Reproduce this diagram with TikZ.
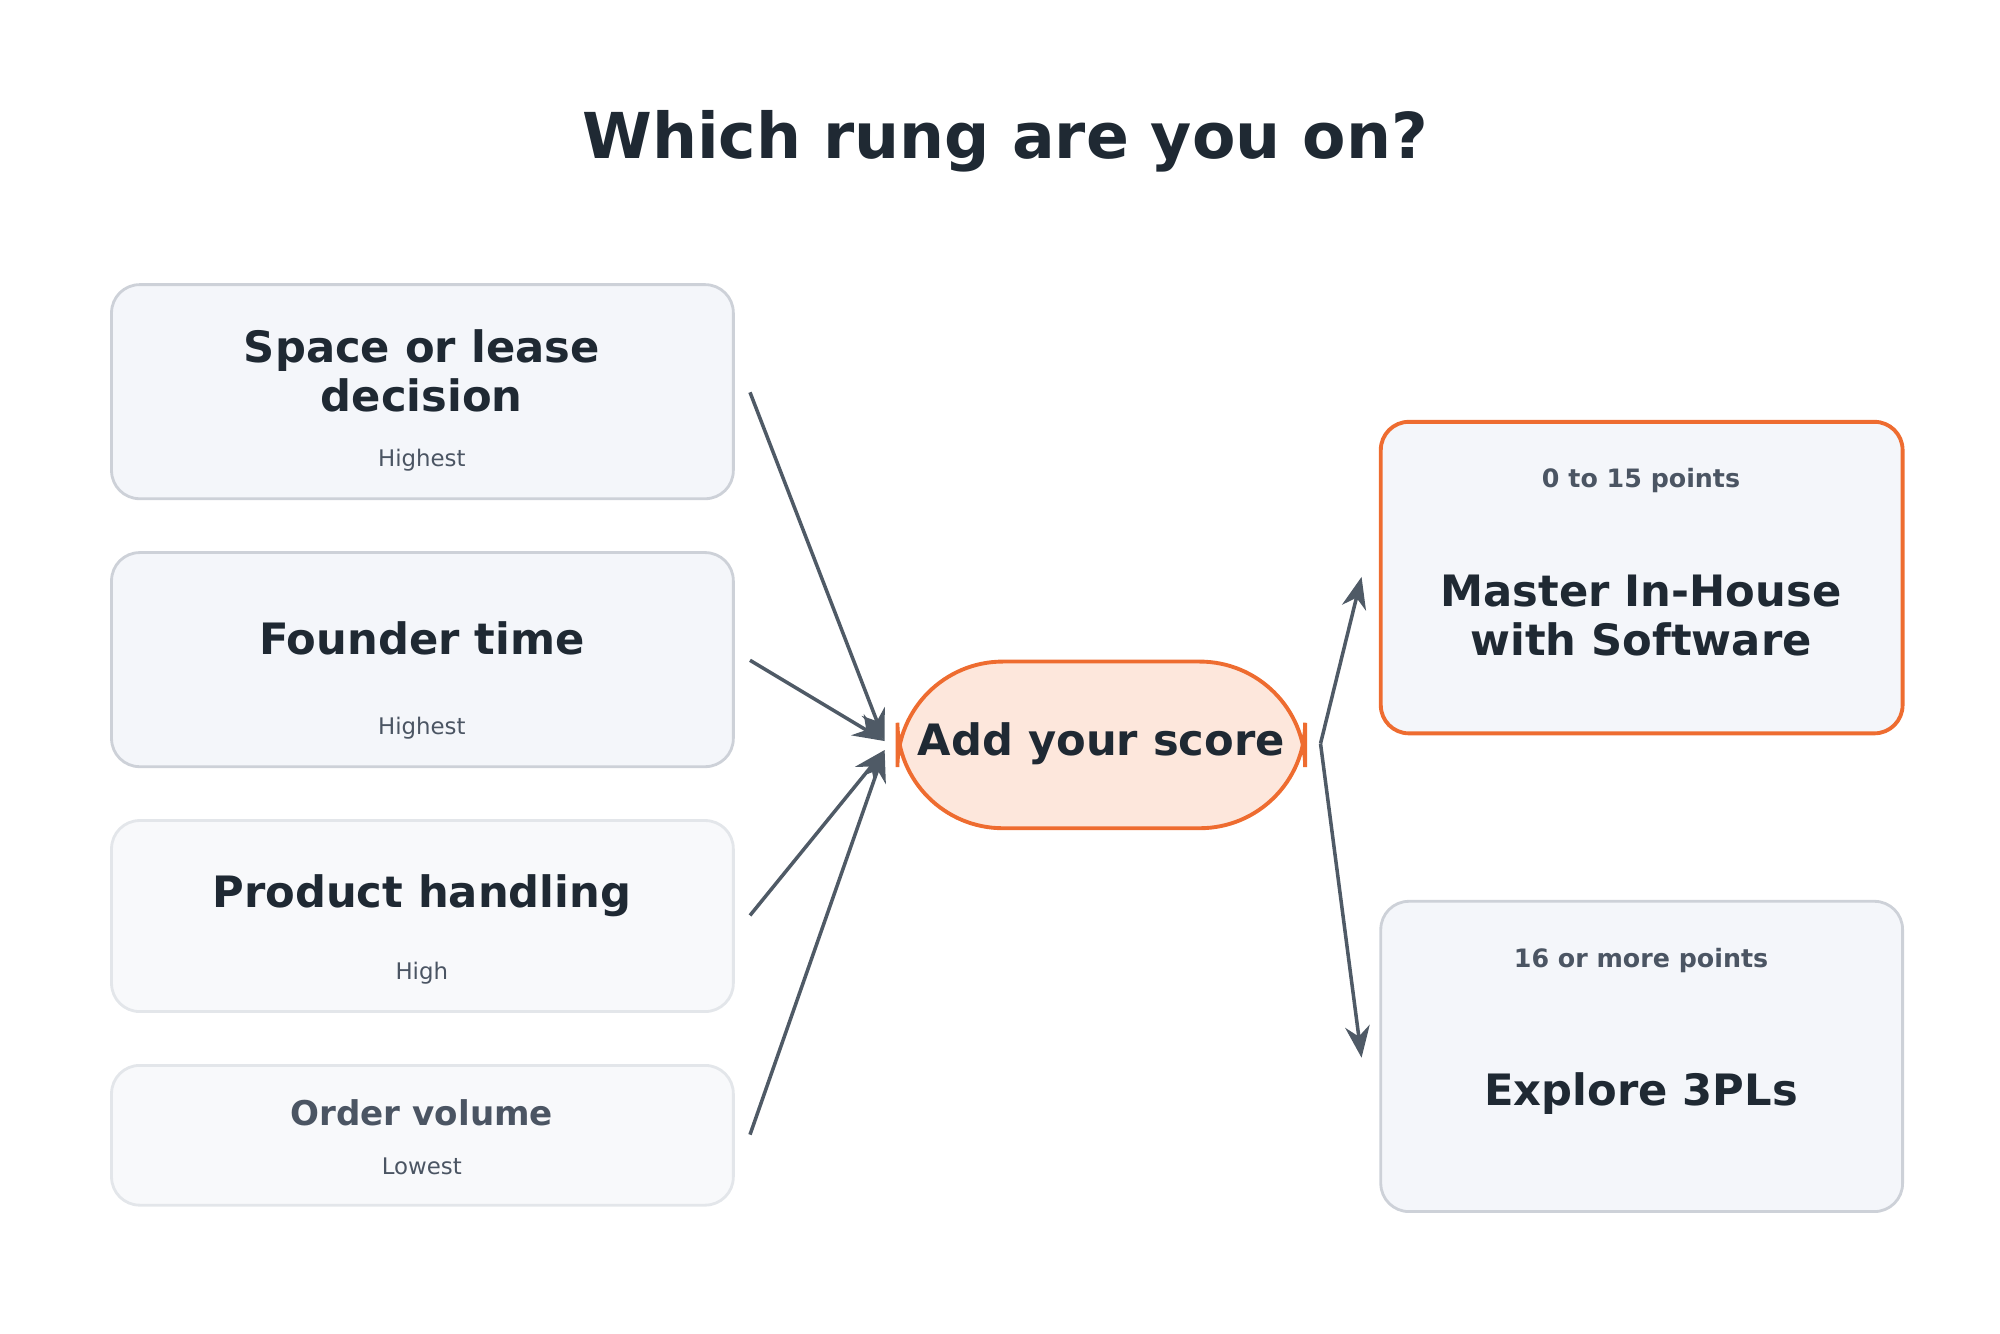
\documentclass[tikz,border=0pt]{standalone}
\usepackage{fontspec}
\setmainfont{DejaVu Sans}
\usetikzlibrary{arrows.meta}
\definecolor{ink}{HTML}{1F2933}
\definecolor{sub}{HTML}{4B5563}
\definecolor{boxfill}{HTML}{F4F6FA}
\definecolor{boxline}{HTML}{CDD1D8}
\definecolor{lightfill}{HTML}{F8F9FB}
\definecolor{lightline}{HTML}{E3E6EA}
\definecolor{orange}{HTML}{EE6C30}
\definecolor{peach}{HTML}{FDE7DC}
\definecolor{arrowc}{HTML}{4F5A66}
\begin{document}
\begin{tikzpicture}[x=0.01282cm,y=-0.01282cm,
  box/.style={draw=boxline,fill=boxfill,line width=0.8pt,rounded corners=8pt},
  lbox/.style={draw=lightline,fill=lightfill,line width=0.8pt,rounded corners=8pt},
  obox/.style={draw=orange,fill=boxfill,line width=1.1pt,rounded corners=8pt},
  ttl/.style={font=\bfseries\fontsize{12.3}{14}\selectfont,text=ink,align=center},
  sml/.style={font=\fontsize{6.5}{7.5}\selectfont,text=sub},
  pts/.style={font=\bfseries\fontsize{7.2}{8}\selectfont,text=sub},
  arr/.style={draw=arrowc,line width=1pt,-{Stealth[length=9pt,width=7pt]}}]
\useasboundingbox (0,0) rectangle (1560,1040);
\node[font=\bfseries\fontsize{18}{21}\selectfont,text=ink] (title) at (784,110) {Which rung are you on?};
% left boxes
\draw[box] (87,222) rectangle (572,389);
\node[ttl] (t1) at (329,289) {Space or lease\\decision};
\node[sml] (s1) at (329,359) {Highest};
\draw[box] (87,431) rectangle (572,598);
\node[ttl] (t2) at (329,498) {Founder time};
\node[sml] (s2) at (329,568) {Highest};
\draw[lbox] (87,640) rectangle (572,789);
\node[ttl] (t3) at (329,699) {Product handling};
\node[sml] (s3) at (329,759) {High};
\draw[lbox] (87,831) rectangle (572,940);
\node[ttl,text=sub,font=\bfseries\fontsize{9.7}{11}\selectfont] (t4) at (329,868) {Order volume};
\node[sml] (s4) at (329,910) {Lowest};
% center
\draw[draw=orange,fill=peach,line width=1.1pt,rounded corners=30pt] (700,516) rectangle (1018,646);
\node[ttl] (ct) at (859,580) {Add your score};
% right boxes
\draw[obox] (1077,329) rectangle (1484,572);
\node[pts] (p1) at (1280,375) {0 to 15 points};
\node[ttl] (r1) at (1280,480) {Master In-House\\with Software};
\draw[box] (1077,703) rectangle (1484,945);
\node[pts] (p2) at (1280,749) {16 or more points};
\node[ttl] (r2) at (1280,853) {Explore 3PLs};
% connectors
\coordinate (a1) at (585,306); \coordinate (a2) at (585,515);
\coordinate (a3) at (585,714); \coordinate (a4) at (585,885);
\coordinate (in1) at (690,578); \coordinate (in2) at (690,585);
\coordinate (o) at (1030,580);
\coordinate (e1) at (1062,450); \coordinate (e2) at (1062,825);
\draw[arr] (a1) -- (in1);
\draw[arr] (a2) -- (in1);
\draw[arr] (a3) -- (in2);
\draw[arr] (a4) -- (in2);
\draw[arr] (o) -- (e1);
\draw[arr] (o) -- (e2);
\end{tikzpicture}
\end{document}
